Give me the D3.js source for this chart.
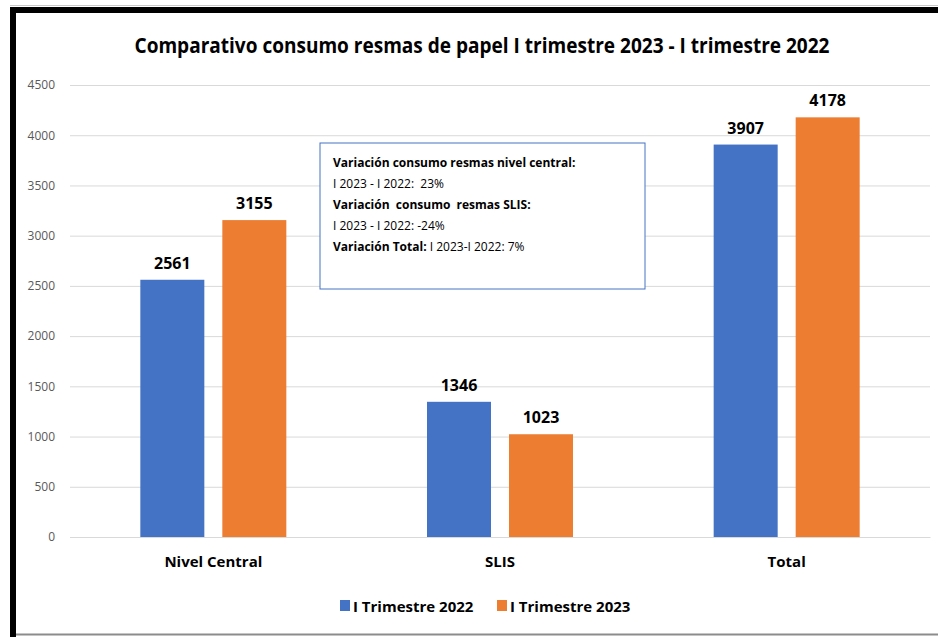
<!DOCTYPE html>
<html>
<head>
<meta charset="utf-8">
<script src="https://cdn.jsdelivr.net/npm/d3@7"></script>
<style>
  body { margin: 0; background: #fff; }
  svg text { font-family: "Open Sans", sans-serif; white-space: pre; }
</style>
</head>
<body>
<svg id="chart"></svg>
<script>
// data
const categories = ["Nivel Central", "SLIS", "Total"];
const seriesNames = ["I Trimestre 2022", "I Trimestre 2023"];
const trim2022 = [2561, 1346, 3907];
const trim2023 = [3155, 1023, 4178];
const yTicks = [0, 500, 1000, 1500, 2000, 2500, 3000, 3500, 4000, 4500];
const noteLines = [
  ["Variación consumo resmas nivel central:", ""],
  ["", "I 2023 - I 2022:  23%"],
  ["Variación  consumo  resmas SLIS:", ""],
  ["", "I 2023 - I 2022: -24%"],
  ["Variación Total: ", "I 2023-I 2022: 7%"]
];
const colors = ["#4472C4", "#ED7D31"];

const W = 938, H = 637;
const svg = d3.select("#chart").attr("width", W).attr("height", H);

// frame
svg.append("rect").attr("x", 0).attr("y", 0).attr("width", W).attr("height", H).attr("fill", "#fff");
svg.append("line").attr("x1", 10).attr("x2", W).attr("y1", 5.5).attr("y2", 5.5).attr("stroke", "#c8c8c8").attr("stroke-width", 1);
svg.append("line").attr("x1", 10).attr("x2", W).attr("y1", 10).attr("y2", 10).attr("stroke", "#000").attr("stroke-width", 6);
svg.append("line").attr("x1", 13).attr("x2", 13).attr("y1", 7).attr("y2", H).attr("stroke", "#000").attr("stroke-width", 6);
svg.append("line").attr("x1", 16).attr("x2", W).attr("y1", 634.5).attr("y2", 634.5).attr("stroke", "#8c8c8c").attr("stroke-width", 2);

const x = d3.scaleBand().domain(categories).range([70, 930]);
const y = d3.scaleLinear().domain([0, 4500]).range([537, 85]);
const barW = 64, gap = 18;
const xs = d3.scaleOrdinal().domain(seriesNames).range([-barW - gap / 2, gap / 2]);

// title
svg.append("text")
  .attr("x", 482).attr("y", 53)
  .attr("text-anchor", "middle")
  .attr("font-size", 21).attr("font-weight", "bold")
  .attr("fill", "#000")
  .attr("textLength", 695).attr("lengthAdjust", "spacingAndGlyphs")
  .text("Comparativo consumo resmas de papel I trimestre 2023 - I trimestre 2022");

// grid + y axis
const yAxis = d3.axisLeft(y).tickValues(yTicks).tickFormat(d3.format("d")).tickSize(-860).tickPadding(15);
const gy = svg.append("g").attr("transform", "translate(70,0)").call(yAxis);
gy.select(".domain").remove();
gy.selectAll(".tick line").attr("stroke", "#d9d9d9").attr("stroke-width", 1);
gy.selectAll(".tick text").attr("fill", "#595959").attr("font-size", 12)
  .style("font-family", "'Open Sans', sans-serif");

// bars
const series = [trim2022, trim2023];
series.forEach((vals, si) => {
  const g = svg.append("g");
  g.selectAll("rect").data(vals).enter().append("rect")
    .attr("x", (d, i) => x(categories[i]) + x.bandwidth() / 2 + xs(seriesNames[si]))
    .attr("y", d => y(d))
    .attr("width", barW)
    .attr("height", d => y(0) - y(d))
    .attr("fill", colors[si]);
  g.selectAll("text").data(vals).enter().append("text")
    .attr("x", (d, i) => x(categories[i]) + x.bandwidth() / 2 + xs(seriesNames[si]) + barW / 2)
    .attr("y", d => y(d) - 11)
    .attr("text-anchor", "middle")
    .attr("font-size", 16).attr("font-weight", "bold").attr("fill", "#000")
    .text(d => d);
});

// category labels
const gx = svg.append("g").attr("transform", "translate(0,537)")
  .call(d3.axisBottom(x).tickSize(0).tickPadding(19));
gx.select(".domain").attr("stroke", "#d9d9d9");
gx.selectAll(".tick text").attr("font-size", 15).attr("font-weight", "bold").attr("fill", "#000")
  .style("font-family", "'Open Sans', sans-serif");

// annotation box
const note = svg.append("g").attr("transform", "translate(320,143)");
note.append("rect").attr("x", 0).attr("y", 0).attr("width", 325).attr("height", 146)
  .attr("fill", "#fff").attr("stroke", "#4472C4").attr("stroke-width", 1);
noteLines.forEach((ln, i) => {
  const t = note.append("text").attr("x", 13).attr("y", 24 + i * 21)
    .attr("font-size", 12).attr("fill", "#000");
  if (ln[0]) t.append("tspan").attr("font-weight", "bold").text(ln[0]);
  if (ln[1]) t.append("tspan").text(ln[1]);
});

// legend
const legendX = [340, 497];
seriesNames.forEach((s, i) => {
  const lg = svg.append("g").attr("transform", `translate(${legendX[i]},606)`);
  lg.append("rect").attr("x", 0).attr("y", -6).attr("width", 10).attr("height", 11).attr("fill", colors[i]);
  lg.append("text").attr("x", 13).attr("y", 6).attr("font-size", 15).attr("font-weight", "bold")
    .attr("fill", "#000").text(s);
});
</script>
</body>
</html>
